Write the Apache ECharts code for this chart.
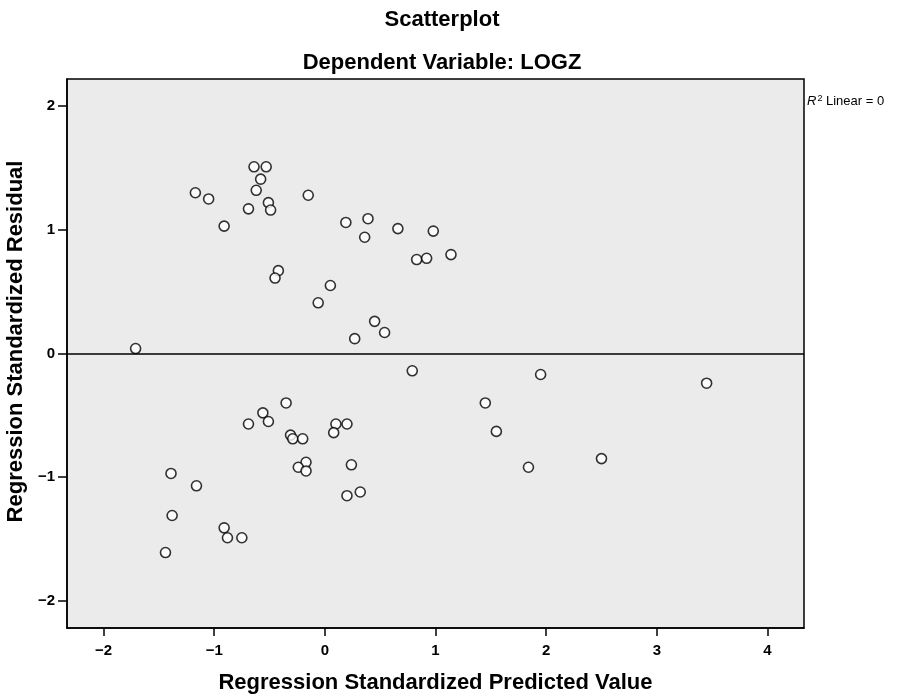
<!DOCTYPE html>
<html lang="en">
<head>
    <meta charset="UTF-8">
    <title>Scatterplot</title>
    <script src="https://cdn.jsdelivr.net/npm/echarts@6/dist/echarts.min.js"></script>
</head>
<body style="margin:0;background:#fff;">
<div id="main" style="width:908px;height:698px;"></div>
<script>
// predicted values (x) and residuals (y)
var predicted = [
    -1.71, -1.17, -1.05, -0.91, -0.69, -0.64, -0.53, -0.58, -0.62, -0.51,
    -0.49, -0.15, -0.42, -0.45, 0.19, 0.39, 0.36, 0.66, 0.98, 0.83,
    0.92, 1.14, 0.05, -0.06, 0.45, 0.54, 0.27,
    0.79, -0.35, -0.56, -0.51, -0.69, -0.31, -0.29, -0.20, 0.10, 0.20,
    0.08, -0.17, -0.24, -0.17, 0.24, 0.20, 0.32, -1.39, -1.16, -1.38,
    -0.91, -0.88, -0.75, -1.44,
    1.95, 3.45, 1.45, 1.55, 1.84, 2.50
];
var residual = [
    0.04, 1.30, 1.25, 1.03, 1.17, 1.51, 1.51, 1.41, 1.32, 1.22,
    1.16, 1.28, 0.67, 0.61, 1.06, 1.09, 0.94, 1.01, 0.99, 0.76,
    0.77, 0.80, 0.55, 0.41, 0.26, 0.17, 0.12,
    -0.14, -0.40, -0.48, -0.55, -0.57, -0.66, -0.69, -0.69, -0.57, -0.57,
    -0.64, -0.88, -0.92, -0.95, -0.90, -1.15, -1.12, -0.97, -1.07, -1.31,
    -1.41, -1.49, -1.49, -1.61,
    -0.17, -0.24, -0.40, -0.63, -0.92, -0.85
];
var xTicks = [-2, -1, 0, 1, 2, 3, 4];
var yTicks = [-2, -1, 0, 1, 2];
var fitValue = 0;   // R2 Linear = 0 -> flat line

var points = [];
for (var i = 0; i < predicted.length; i++) {
    points.push([predicted[i], residual[i]]);
}

var myChart = echarts.init(document.getElementById('main'));
var font = '"Liberation Sans", Arial, sans-serif';

function minusFmt(v) {
    return String(v).replace('-', '\u2212');
}

var option = {
    backgroundColor: '#ffffff',
    animation: false,
    title: [{
        text: 'Scatterplot',
        left: 437,
        top: 4,
        textAlign: 'center',
        textStyle: {fontFamily: font, fontSize: 22, fontWeight: 'bold', color: '#000'}
    }, {
        text: 'Dependent Variable: LOGZ',
        left: 437,
        top: 47,
        textAlign: 'center',
        textStyle: {fontFamily: font, fontSize: 22, fontWeight: 'bold', color: '#000'}
    }],
    grid: {
        left: 67,
        right: 104,
        top: 79,
        bottom: 70,
        outerBoundsMode: 'none',
        containLabel: false,
        show: true,
        backgroundColor: '#ebebeb',
        borderColor: '#000',
        borderWidth: 1.5
    },
    xAxis: {
        type: 'value',
        min: -2.33,
        max: 4.33,
        interval: 1,
        name: 'Regression Standardized Predicted Value',
        nameLocation: 'middle',
        nameGap: 44,
        nameTextStyle: {fontFamily: font, fontSize: 22, fontWeight: 'bold', color: '#000'},
        axisLine: {show: true, onZero: false, lineStyle: {color: '#000', width: 1.5}},
        axisTick: {show: true, length: 8, lineStyle: {color: '#000', width: 1.5},
            customValues: xTicks},
        axisLabel: {fontFamily: font, fontSize: 15, fontWeight: 'bold', color: '#000', margin: 15,
            customValues: xTicks, formatter: minusFmt},
        splitLine: {show: false}
    },
    yAxis: {
        type: 'value',
        min: -2.22,
        max: 2.22,
        interval: 1,
        name: 'Regression Standardized Residual',
        nameLocation: 'middle',
        nameGap: 34,
        nameTextStyle: {fontFamily: font, fontSize: 22, fontWeight: 'bold', color: '#000',
            padding: [0, 0, 0, 24]},
        axisLine: {show: true, onZero: false, lineStyle: {color: '#000', width: 1.5}},
        axisTick: {show: true, length: 9, lineStyle: {color: '#000', width: 1.5},
            customValues: yTicks},
        axisLabel: {fontFamily: font, fontSize: 15, fontWeight: 'bold', color: '#000', margin: 12,
            customValues: yTicks, formatter: minusFmt},
        splitLine: {show: false}
    },
    graphic: [{
        type: 'text',
        left: 807,
        top: 94,
        style: {
            text: '{r|R}{s|2} Linear = 0',
            rich: {
                r: {fontFamily: font, fontSize: 13, fontStyle: 'italic', fill: '#000'},
                s: {fontFamily: font, fontSize: 9, verticalAlign: 'top', fill: '#000', padding: [0, 0, 6, 1]}
            },
            font: '13px ' + font,
            fill: '#000'
        }
    }],
    series: [{
        type: 'scatter',
        data: points,
        symbol: 'circle',
        symbolSize: 10,
        itemStyle: {color: '#ffffff', borderColor: '#000', borderWidth: 1.6},
        markLine: {
            silent: true,
            symbol: ['none', 'none'],
            label: {show: false},
            lineStyle: {color: '#000', width: 1.5, type: 'solid'},
            data: [{yAxis: fitValue}]
        }
    }]
};

myChart.setOption(option);
</script>
</body>
</html>
